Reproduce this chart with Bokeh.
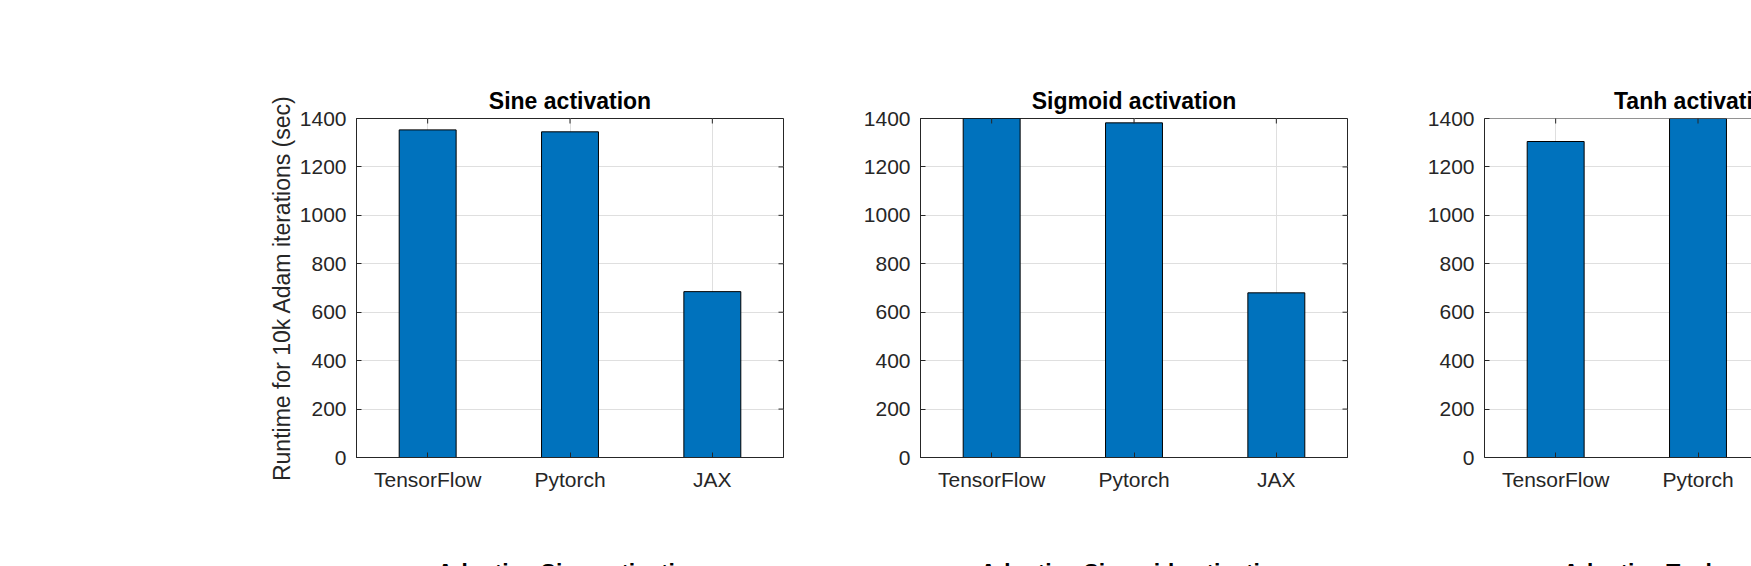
import math
from bokeh.plotting import figure
from bokeh.models import Range1d, FixedTicker, Span
from bokeh.layouts import row, column
from bokeh.embed import file_html
from bokeh.resources import INLINE
from bokeh.core.properties import value

# ---------------- data ----------------
frameworks = ["TensorFlow", "Pytorch", "JAX"]
sine_runtime = [1353, 1345, 685]
sigmoid_runtime = [1460, 1382, 680]
tanh_runtime = [1305, 1450, 690]
panel_titles = ["Sine activation", "Sigmoid activation", "Tanh activation"]
lower_titles = ["Adaptive Sine activation", "Adaptive Sigmoid activation", "Adaptive Tanh activation"]
y_ticks = [0, 200, 400, 600, 800, 1000, 1200, 1400]
y_label = "Runtime for 10k Adam iterations (sec)"

# ---------------- style / layout ----------------
FONT = "Liberation Sans"
INK = "#262626"
BAR = "#0072BD"
GRID = "#dfdfdf"
Y_MAX = 1400
TOP_H = 516
B_TOP, FRAME_H = 118, 339
B_BOT = TOP_H - B_TOP - FRAME_H
STRIP_H = 50
TICK_LEN = 5
TICK_FS = "21px"
TITLE_FS = "23px"
PPU = 427 / 3  # frame pixels per category slot

x_pos = list(range(1, len(frameworks) + 1))
labels = {x: name for x, name in zip(x_pos, frameworks)}

# (figure width, left border, right border)
specs = [
    (840, 356, 57),
    (564, 80, 57),
    (347, 80, 0),
]


def style_axis(ax, standoff):
    ax.axis_line_color = INK
    ax.axis_line_width = 1
    ax.major_tick_line_color = INK
    ax.major_tick_in = TICK_LEN
    ax.major_tick_out = 0
    ax.minor_tick_in = 0
    ax.minor_tick_out = 0
    ax.major_label_text_font = FONT
    ax.major_label_text_color = INK
    ax.major_label_text_font_size = TICK_FS
    ax.major_label_standoff = standoff


def make_panel(title, values, spec, ylabel=None, crop=False):
    w, bl, br = spec
    frame_w = w - bl - br
    x_end = 0.5 + frame_w / PPU
    p = figure(width=w, height=TOP_H, x_range=Range1d(0.5, x_end),
               y_range=Range1d(0, Y_MAX), min_border_left=bl, min_border_right=br,
               min_border_top=B_TOP, min_border_bottom=B_BOT,
               toolbar_location=None, output_backend="svg",
               outline_line_color=None if crop else INK, outline_line_width=1,
               background_fill_color="white", border_fill_color="white")
    p.title.text = title
    p.title.text_font = FONT
    p.title.text_font_size = TITLE_FS
    p.title.text_font_style = "bold"
    p.title.text_color = "black"
    if crop:
        p.title.align = "left"
        p.title.offset = 1.5 * PPU - 84
    else:
        p.title.align = "center"

    xt = FixedTicker(ticks=x_pos)
    yt = FixedTicker(ticks=y_ticks)
    p.xaxis.ticker = xt
    p.xaxis.major_label_overrides = labels
    p.yaxis.ticker = yt
    style_axis(p.xaxis[0], 10)
    style_axis(p.yaxis[0], 10)
    p.xgrid.ticker = xt
    p.ygrid.ticker = yt
    p.grid.grid_line_color = GRID
    p.grid.grid_line_width = 1

    if ylabel:
        ax = p.yaxis[0]
        ax.axis_label = ylabel
        ax.axis_label_text_font = FONT
        ax.axis_label_text_font_size = TITLE_FS
        ax.axis_label_text_font_style = "normal"
        ax.axis_label_text_color = INK
        ax.axis_label_standoff = 2

    p.vbar(x=x_pos, top=values, bottom=0, width=0.4, fill_color=BAR,
           line_color="black", line_width=1)

    # MATLAB-style box: inward ticks on the top (and right) edges
    p.scatter(x=x_pos, y=[Y_MAX] * len(x_pos), marker="dash", size=2 * TICK_LEN,
              angle=math.pi / 2, line_color=INK, line_width=1)
    if crop:
        p.add_layout(Span(location=Y_MAX, dimension="width", line_color=INK,
                          line_width=1))
    else:
        p.scatter(x=[x_end] * len(y_ticks), y=y_ticks, marker="dash",
                  size=2 * TICK_LEN, line_color=INK, line_width=1)
    return p


p1 = make_panel(panel_titles[0], sine_runtime, specs[0], ylabel=y_label)
p2 = make_panel(panel_titles[1], sigmoid_runtime, specs[1])
p3 = make_panel(panel_titles[2], tanh_runtime, specs[2], crop=True)

# lower row titles (only their tops peek in at the bottom edge)
total_w = sum(s[0] for s in specs)
centers = []
off = 0
for w, bl, br in specs:
    centers.append(off + bl + 1.5 * PPU)
    off += w

strip = figure(width=total_w, height=STRIP_H, x_range=Range1d(0, total_w),
               y_range=Range1d(0, STRIP_H), min_border=0, toolbar_location=None,
               output_backend="svg", outline_line_color=None,
               x_axis_type=None, y_axis_type=None)
strip.grid.visible = False
strip.text(x=centers, y=[7] * len(centers), text=lower_titles,
           text_font=value(FONT), text_font_size=TITLE_FS, text_font_style="bold",
           text_align="center", text_baseline="top", text_color="black")

layout = column(row(p1, p2, p3), strip)
open("out.html", "w").write(file_html(layout, INLINE))
